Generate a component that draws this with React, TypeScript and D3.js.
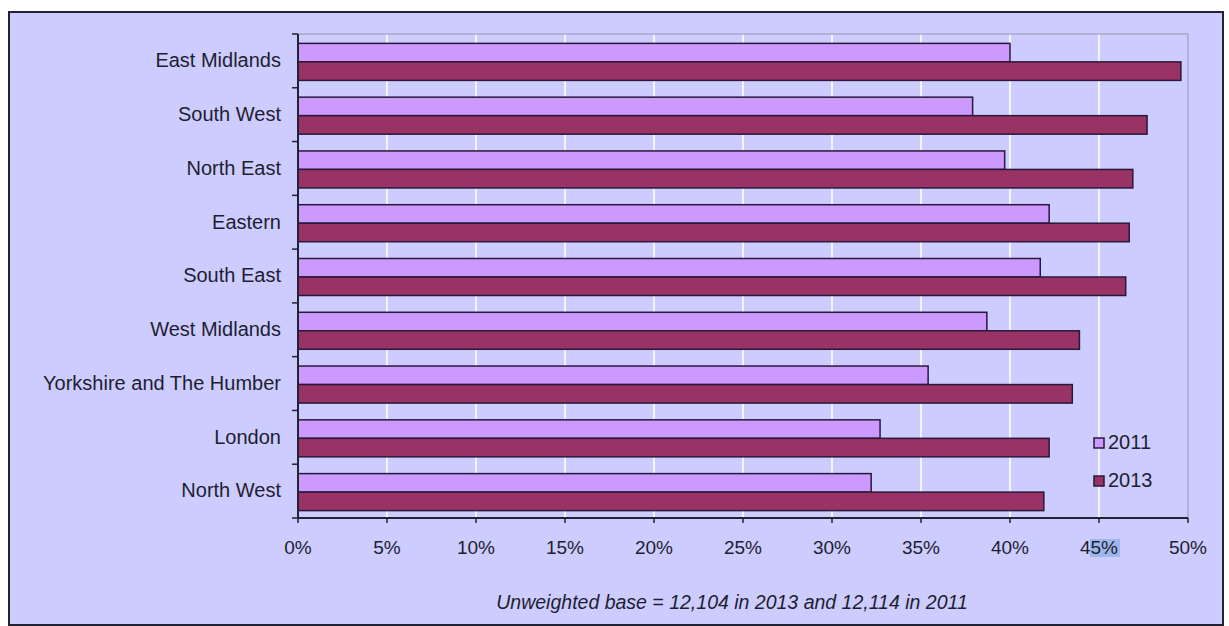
import React from "react";
import * as d3 from "d3";

const categories = [
  "East Midlands",
  "South West",
  "North East",
  "Eastern",
  "South East",
  "West Midlands",
  "Yorkshire and The Humber",
  "London",
  "North West",
];
const values2011 = [40.0, 37.9, 39.7, 42.2, 41.7, 38.7, 35.4, 32.7, 32.2];
const values2013 = [49.6, 47.7, 46.9, 46.7, 46.5, 43.9, 43.5, 42.2, 41.9];
const seriesNames = ["2011", "2013"];
const xTicks = [0, 5, 10, 15, 20, 25, 30, 35, 40, 45, 50];
const footnote = "Unweighted base = 12,104 in 2013 and 12,114 in 2011";

const W = 1229;
const H = 626;
const FONT = "'Liberation Sans', Arial, sans-serif";
const BG = "#ccccff";
const C2011 = "#cc99ff";
const C2013 = "#993366";
const OUTLINE = "#2a1838";
const TEXT = "#1e1e30";

export default function App() {
  const left = 298;
  const right = 1188;
  const top = 34;
  const bottom = 518;

  const x = d3.scaleLinear().domain([0, 50]).range([left, right]);
  const y = d3.scaleBand<string>().domain(categories).range([top, bottom]).paddingInner(0).paddingOuter(0);
  const bw = y.bandwidth();
  const barH = 18.5;
  const groupOff = (bw - barH * 2) / 2 + 1;

  return (
    <svg
      width={W}
      height={H}
      style={{ position: "absolute", left: 0, top: 0, display: "block", background: "#ffffff" }}
      fontFamily={FONT}
    >
      <rect x={9} y={12} width={1214} height={613} fill={BG} stroke="#222233" strokeWidth={2} />

      {/* gridlines */}
      {xTicks.slice(1, -1).map((t) => (
        <line key={"g" + t} x1={x(t)} x2={x(t)} y1={top} y2={bottom} stroke="#f4f4ff" strokeWidth={2} />
      ))}
      {/* plot border top/right */}
      <line x1={left} x2={right} y1={top} y2={top} stroke="#a9a9c8" strokeWidth={1.5} />
      <line x1={right} x2={right} y1={top} y2={bottom} stroke="#a9a9c8" strokeWidth={1.5} />

      {/* bars */}
      {categories.map((c, i) => {
        const y0 = (y(c) as number) + groupOff;
        return (
          <g key={c}>
            <rect x={x(0)} y={y0} width={x(values2011[i]) - x(0)} height={barH} fill={C2011} stroke={OUTLINE} strokeWidth={1.5} />
            <rect x={x(0)} y={y0 + barH} width={x(values2013[i]) - x(0)} height={barH} fill={C2013} stroke={OUTLINE} strokeWidth={1.5} />
          </g>
        );
      })}

      {/* y axis */}
      <line x1={left} x2={left} y1={top} y2={bottom} stroke="#222233" strokeWidth={2} />
      {categories.map((c, i) => (
        <line key={"yt" + i} x1={left - 6} x2={left} y1={y(c) as number} y2={y(c) as number} stroke="#222233" strokeWidth={1.5} />
      ))}
      <line x1={left - 6} x2={left} y1={bottom} y2={bottom} stroke="#222233" strokeWidth={1.5} />
      {categories.map((c) => (
        <text
          key={"yl" + c}
          x={left - 17}
          y={(y(c) as number) + bw / 2 + 1}
          textAnchor="end"
          dominantBaseline="middle"
          fontSize={20}
          fill={TEXT}
        >
          {c}
        </text>
      ))}

      {/* x axis */}
      <line x1={left} x2={right} y1={bottom} y2={bottom} stroke="#222233" strokeWidth={2} />
      <rect x={1090} y={539} width={30} height={18} fill="#9fb6ec" />
      {xTicks.map((t) => (
        <g key={"xt" + t}>
          <line x1={x(t)} x2={x(t)} y1={bottom} y2={bottom + 5} stroke="#222233" strokeWidth={1.5} />
          <text x={x(t)} y={549} textAnchor="middle" dominantBaseline="middle" fontSize={19} fill={TEXT}>
            {t + "%"}
          </text>
        </g>
      ))}

      {/* legend */}
      {seriesNames.map((s, i) => (
        <g key={"lg" + s} transform={`translate(1094, ${443 + i * 38})`}>
          <rect x={0} y={-5} width={10} height={10} fill={i === 0 ? C2011 : C2013} stroke={OUTLINE} strokeWidth={1.5} />
          <text x={14} y={1} dominantBaseline="middle" fontSize={20} fill={TEXT}>
            {s}
          </text>
        </g>
      ))}

      {/* footnote */}
      <text x={732} y={604} textAnchor="middle" dominantBaseline="middle" fontSize={19.5} fontStyle="italic" fill={TEXT}>
        {footnote}
      </text>
    </svg>
  );
}
